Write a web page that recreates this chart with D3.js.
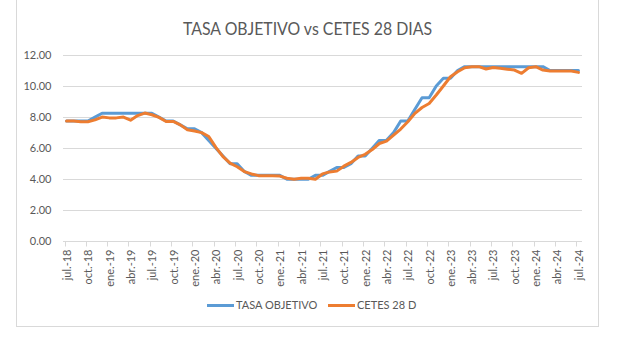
<!DOCTYPE html>
<html>
<head>
<meta charset="utf-8">
<script src="https://cdn.jsdelivr.net/npm/d3@7"></script>
<style>
  html, body { margin: 0; padding: 0; background: #fff; }
  svg { display: block; font-family: Lato, "Open Sans", sans-serif; }
</style>
</head>
<body>
<svg id="chart" width="619" height="337"></svg>
<script>
// Monthly series, jul-2018 .. jul-2024
const monthNames = ["ene.", "feb.", "mar.", "abr.", "may.", "jun.", "jul.", "ago.", "sep.", "oct.", "nov.", "dic."];
const startYear = 2018, startMonth = 6, monthCount = 73;
const months = d3.range(monthCount).map(i => {
  const m = (startMonth + i) % 12;
  const y = startYear + Math.floor((startMonth + i) / 12);
  return monthNames[m] + "-" + String(y).slice(2);
});

const tasaObjetivo = [
  7.75, 7.75, 7.75, 7.75, 8.00, 8.25,
  8.25, 8.25, 8.25, 8.25, 8.25, 8.25, 8.25, 8.00, 7.75, 7.75, 7.50, 7.25,
  7.25, 7.00, 6.50, 6.00, 5.50, 5.00, 5.00, 4.50, 4.25, 4.25, 4.25, 4.25,
  4.25, 4.00, 4.00, 4.00, 4.00, 4.25, 4.25, 4.50, 4.75, 4.75, 5.00, 5.50,
  5.50, 6.00, 6.50, 6.50, 7.00, 7.75, 7.75, 8.50, 9.25, 9.25, 10.00, 10.50,
  10.50, 11.00, 11.25, 11.25, 11.25, 11.25, 11.25, 11.25, 11.25, 11.25, 11.25, 11.25,
  11.25, 11.25, 11.00, 11.00, 11.00, 11.00, 11.00
];

const cetes28 = [
  7.75, 7.75, 7.70, 7.70, 7.82, 8.00,
  7.95, 7.95, 8.00, 7.80, 8.10, 8.26, 8.15, 7.98, 7.72, 7.72, 7.50, 7.18,
  7.10, 7.00, 6.75, 6.05, 5.45, 5.03, 4.80, 4.49, 4.34, 4.23, 4.23, 4.23,
  4.20, 4.06, 4.00, 4.06, 4.06, 4.00, 4.34, 4.47, 4.52, 4.84, 5.08, 5.40,
  5.60, 5.91, 6.30, 6.45, 6.84, 7.23, 7.70, 8.24, 8.62, 8.88, 9.42, 10.00,
  10.60, 10.92, 11.18, 11.25, 11.25, 11.10, 11.20, 11.14, 11.08, 11.03, 10.82, 11.18,
  11.25, 11.03, 10.97, 10.97, 10.97, 10.97, 10.88
];

const yTicks = [0, 2, 4, 6, 8, 10, 12];
const seriesNames = ["TASA OBJETIVO", "CETES 28 D"];
const seriesColors = ["#5B9BD5", "#ED7D31"];
const chartTitle = "TASA OBJETIVO vs CETES 28 DIAS";

const svg = d3.select("#chart");
const textColor = "#595959";
const gridColor = "#D9D9D9";
const smallFont = 11;

// chart frame
svg.append("rect")
  .attr("x", 16.5).attr("y", -2)
  .attr("width", 582).attr("height", 328.5)
  .attr("fill", "none").attr("stroke", gridColor).attr("stroke-width", 1);

// scales
const x = d3.scaleBand().domain(months).range([63, 582]).padding(0);
const y = d3.scaleLinear().domain([0, 12]).range([241.3, 55]);
const cx = m => x(m) + x.bandwidth() / 2;

// horizontal gridlines
svg.append("g").selectAll("line").data(yTicks.filter(v => v > 0)).join("line")
  .attr("x1", 63).attr("x2", 582)
  .attr("y1", d => Math.round(y(d)) + 0.5).attr("y2", d => Math.round(y(d)) + 0.5)
  .attr("stroke", gridColor).attr("stroke-width", 1);

// y axis labels
svg.append("g").selectAll("text").data(yTicks).join("text")
  .attr("x", 51.5).attr("y", d => y(d))
  .attr("dy", "0.35em")
  .attr("text-anchor", "end")
  .attr("font-size", smallFont)
  .attr("fill", textColor)
  .text(d => d3.format(".2f")(d));

// x axis line and ticks
const baseY = Math.round(y(0)) + 0.5;
svg.append("line")
  .attr("x1", 63).attr("x2", 582)
  .attr("y1", baseY).attr("y2", baseY)
  .attr("stroke", gridColor).attr("stroke-width", 1);

const tickMonths = months.filter((m, i) => i % 3 === 0);
svg.append("g").selectAll("line").data(tickMonths).join("line")
  .attr("x1", d => Math.round(x(d) + 1.5) + 0.5).attr("x2", d => Math.round(x(d) + 1.5) + 0.5)
  .attr("y1", baseY).attr("y2", baseY + 5)
  .attr("stroke", gridColor).attr("stroke-width", 1);

svg.append("g").selectAll("text").data(tickMonths).join("text")
  .attr("transform", d => `translate(${cx(d) + 0.5},${baseY + 8}) rotate(-90)`)
  .attr("dy", "0.35em")
  .attr("text-anchor", "end")
  .attr("font-size", smallFont)
  .attr("fill", textColor)
  .text(d => d);

// lines
const line = d3.line()
  .x((d, i) => cx(months[i]))
  .y(d => y(d));

[tasaObjetivo, cetes28].forEach((series, k) => {
  svg.append("path")
    .datum(series)
    .attr("d", line)
    .attr("fill", "none")
    .attr("stroke", seriesColors[k])
    .attr("stroke-width", 3)
    .attr("stroke-linejoin", "round")
    .attr("stroke-linecap", "round");
});

// title
svg.append("text")
  .attr("x", 307.5).attr("y", 35)
  .attr("text-anchor", "middle")
  .attr("font-size", 17.5)
  .attr("textLength", 249)
  .attr("lengthAdjust", "spacingAndGlyphs")
  .attr("fill", textColor)
  .text(chartTitle);

// legend
const legendItems = [
  { name: seriesNames[0], color: seriesColors[0], x: 207 },
  { name: seriesNames[1], color: seriesColors[1], x: 328 }
];
const lg = svg.append("g");
legendItems.forEach(it => {
  lg.append("line")
    .attr("x1", it.x).attr("x2", it.x + 27)
    .attr("y1", 305.5).attr("y2", 305.5)
    .attr("stroke", it.color).attr("stroke-width", 3);
  lg.append("text")
    .attr("x", it.x + 29).attr("y", 305.5)
    .attr("dy", "0.35em")
    .attr("font-size", smallFont)
    .attr("fill", textColor)
    .text(it.name);
});
</script>
</body>
</html>
